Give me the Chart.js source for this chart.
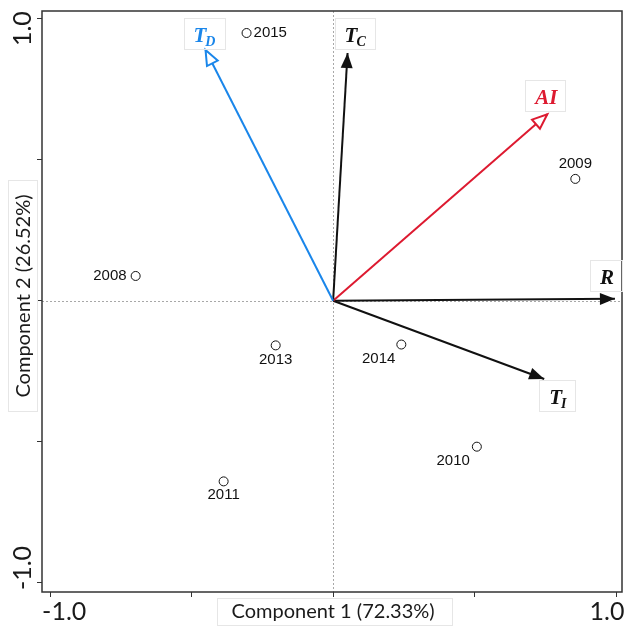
<!DOCTYPE html>
<html>
<head>
<meta charset="utf-8">
<script src="https://cdn.jsdelivr.net/npm/chart.js@4/dist/chart.umd.min.js"></script>
<style>
  html, body { margin: 0; padding: 0; background: #fff; overflow: hidden; }
  canvas { display: block; }
</style>
</head>
<body>
<canvas id="biplot" width="624" height="628"></canvas>
<script>
// scores (years)
const years = ['2008', '2009', '2010', '2011', '2013', '2014', '2015'];
const yearX = [-0.698, 0.856, 0.508, -0.387, -0.203, 0.241, -0.306];
const yearY = [0.088, 0.432, -0.517, -0.640, -0.158, -0.155, 0.949];

// loadings (variables)
const varMain = ['T', 'T', 'AI', 'R', 'T'];
const varSub = ['D', 'C', '', '', 'I'];
const varX = [-0.451, 0.051, 0.757, 0.996, 0.746];
const varY = [0.889, 0.878, 0.661, 0.007, -0.277];

// axis ticks
const tickValues = [-1, -0.5, 0, 0.5, 1];
const tickLabels = ['-1.0', '', '', '', '1.0'];

// looks
const varColor = ['#1a86ea', '#111111', '#dd1a30', '#111111', '#111111'];
const varHollow = [true, false, true, false, false];
// where each label sits relative to the arrow tip (px, left/baseline)
const varLabelOff = [[-12, -8], [-3, -11], [-12, -10], [-15, -15], [5, 25]];
// year label placement: dx, dy from circle, text align
const yearLabelPos = [
  [-9, 0, 'right'], [0, -15, 'center'], [-7, 14, 'right'], [0, 13, 'center'],
  [0, 14, 'center'], [-6, 14, 'right'], [7, 0, 'left']
];

const sansFont = 'Lato, "Open Sans", sans-serif';

function box(ctx, x, y, w, h) {
  ctx.save();
  ctx.strokeStyle = '#e6e6e6';
  ctx.lineWidth = 1;
  ctx.strokeRect(Math.round(x) + 0.5, Math.round(y) + 0.5, Math.round(w), Math.round(h));
  ctx.restore();
}

const biplotPlugin = {
  id: 'biplot',
  beforeDatasetsDraw(chart) {
    const { ctx, chartArea: a, scales: { x, y } } = chart;
    const x0 = x.getPixelForValue(0), y0 = y.getPixelForValue(0);
    ctx.save();
    ctx.strokeStyle = '#a8a8a8';
    ctx.lineWidth = 1;
    ctx.setLineDash([2, 2]);
    ctx.beginPath();
    ctx.moveTo(Math.round(x0) + 0.5, a.top);
    ctx.lineTo(Math.round(x0) + 0.5, a.bottom);
    ctx.moveTo(a.left, Math.round(y0) + 0.5);
    ctx.lineTo(a.right, Math.round(y0) + 0.5);
    ctx.stroke();
    ctx.restore();
  },
  afterDatasetsDraw(chart) {
    const { ctx, chartArea: a, scales: { x, y } } = chart;
    const x0 = x.getPixelForValue(0), y0 = y.getPixelForValue(0);

    // frame
    ctx.save();
    ctx.strokeStyle = '#333';
    ctx.lineWidth = 1.5;
    ctx.strokeRect(a.left, a.top, a.right - a.left, a.bottom - a.top);
    ctx.restore();

    // arrow heads + labels
    varX.forEach((vx, i) => {
      const tx = x.getPixelForValue(vx), ty = y.getPixelForValue(varY[i]);
      const ang = Math.atan2(ty - y0, tx - x0);
      const L = 15, W = 6;
      const bx = tx - L * Math.cos(ang), by = ty - L * Math.sin(ang);
      const px = -Math.sin(ang) * W, py = Math.cos(ang) * W;
      ctx.save();
      ctx.beginPath();
      ctx.moveTo(tx, ty);
      ctx.lineTo(bx + px, by + py);
      ctx.lineTo(bx - px, by - py);
      ctx.closePath();
      ctx.lineJoin = 'miter';
      if (varHollow[i]) {
        ctx.fillStyle = '#fff';
        ctx.fill();
        ctx.strokeStyle = varColor[i];
        ctx.lineWidth = 2;
        ctx.stroke();
      } else {
        ctx.fillStyle = varColor[i];
        ctx.fill();
      }

      // label
      const lx = tx + varLabelOff[i][0], ly = ty + varLabelOff[i][1];
      ctx.font = 'italic bold 21px "Liberation Serif", "DejaVu Serif", serif';
      const w1 = ctx.measureText(varMain[i]).width;
      ctx.font = 'italic bold 14px "Liberation Serif", "DejaVu Serif", serif';
      const w2 = varSub[i] ? ctx.measureText(varSub[i]).width : 0;
      box(ctx, lx - 10, ly - 24, w1 + w2 + 18, 31);
      ctx.fillStyle = varColor[i];
      ctx.textBaseline = 'alphabetic';
      ctx.textAlign = 'left';
      ctx.font = 'italic bold 21px "Liberation Serif", "DejaVu Serif", serif';
      ctx.fillText(varMain[i], lx, ly);
      if (varSub[i]) {
        ctx.font = 'italic bold 14px "Liberation Serif", "DejaVu Serif", serif';
        ctx.fillText(varSub[i], lx + w1 - 1, ly + 4);
      }
      ctx.restore();
    });

    // year labels
    ctx.save();
    ctx.fillStyle = '#111';
    ctx.font = '15px "Liberation Sans", Arial, sans-serif';
    ctx.textBaseline = 'middle';
    years.forEach((yr, i) => {
      const px = x.getPixelForValue(yearX[i]), py = y.getPixelForValue(yearY[i]);
      const p = yearLabelPos[i];
      ctx.textAlign = p[2];
      ctx.fillText(yr, px + p[0], py + p[1]);
    });
    ctx.restore();
  },
  afterDraw(chart) {
    const { ctx, chartArea: a, scales: { x, y } } = chart;
    ctx.save();
    ctx.fillStyle = '#1a1a1a';
    ctx.textBaseline = 'middle';
    ctx.textAlign = 'center';

    // tick labels (ends only, nudged inward)
    ctx.font = '25px ' + sansFont;
    tickValues.forEach((v, i) => {
      if (!tickLabels[i]) return;
      const px = x.getPixelForValue(v);
      ctx.fillText(tickLabels[i], px + (v < 0 ? 14 : -9), 612);
      const py = y.getPixelForValue(v);
      ctx.save();
      ctx.translate(23, py + (v > 0 ? 10 : -15));
      ctx.rotate(-Math.PI / 2);
      ctx.fillText(tickLabels[i], 0, 0);
      ctx.restore();
    });

    // axis titles
    ctx.font = '20px ' + sansFont;
    const t1 = 'Component 1 (72.33%)';
    const t1w = ctx.measureText(t1).width;
    const cx = x.getPixelForValue(0);
    box(ctx, cx - t1w / 2 - 15, 598, t1w + 32, 27);
    ctx.fillText(t1, cx, 612);

    const t2 = 'Component 2 (26.52%)';
    const t2w = ctx.measureText(t2).width;
    const cy = 296;
    box(ctx, 8, cy - t2w / 2 - 14, 29, t2w + 28);
    ctx.save();
    ctx.translate(24, cy);
    ctx.rotate(-Math.PI / 2);
    ctx.fillText(t2, 0, 0);
    ctx.restore();
    ctx.restore();
  }
};

const datasets = [{
  label: 'Years',
  data: years.map((yr, i) => ({ x: yearX[i], y: yearY[i] })),
  pointRadius: 4.5,
  pointBorderWidth: 1,
  pointBorderColor: '#111',
  pointBackgroundColor: '#fff',
  showLine: false,
  order: 0
}];
varX.forEach((vx, i) => {
  datasets.push({
    label: varMain[i] + varSub[i],
    data: [{ x: 0, y: 0 }, { x: vx, y: varY[i] }],
    showLine: true,
    borderColor: varColor[i],
    borderWidth: 2,
    pointRadius: 0,
    order: 1
  });
});

function fixedTicks(scale) {
  scale.ticks = tickValues.map(v => ({ value: v }));
}

new Chart(document.getElementById('biplot'), {
  type: 'scatter',
  data: { datasets: datasets },
  options: {
    responsive: false,
    animation: false,
    layout: { autoPadding: false, padding: { left: 37, right: 2, top: 11, bottom: 31 } },
    plugins: { legend: { display: false }, tooltip: { enabled: false } },
    scales: {
      x: {
        type: 'linear',
        min: -1.029,
        max: 1.021,
        afterBuildTicks: fixedTicks,
        ticks: { display: false },
        grid: { drawOnChartArea: false, drawTicks: true, tickLength: 5, color: '#333', lineWidth: 1 },
        border: { display: false }
      },
      y: {
        type: 'linear',
        min: -1.032,
        max: 1.027,
        afterBuildTicks: fixedTicks,
        ticks: { display: false },
        grid: { drawOnChartArea: false, drawTicks: true, tickLength: 5, color: '#333', lineWidth: 1 },
        border: { display: false }
      }
    }
  },
  plugins: [biplotPlugin]
});
</script>
</body>
</html>
